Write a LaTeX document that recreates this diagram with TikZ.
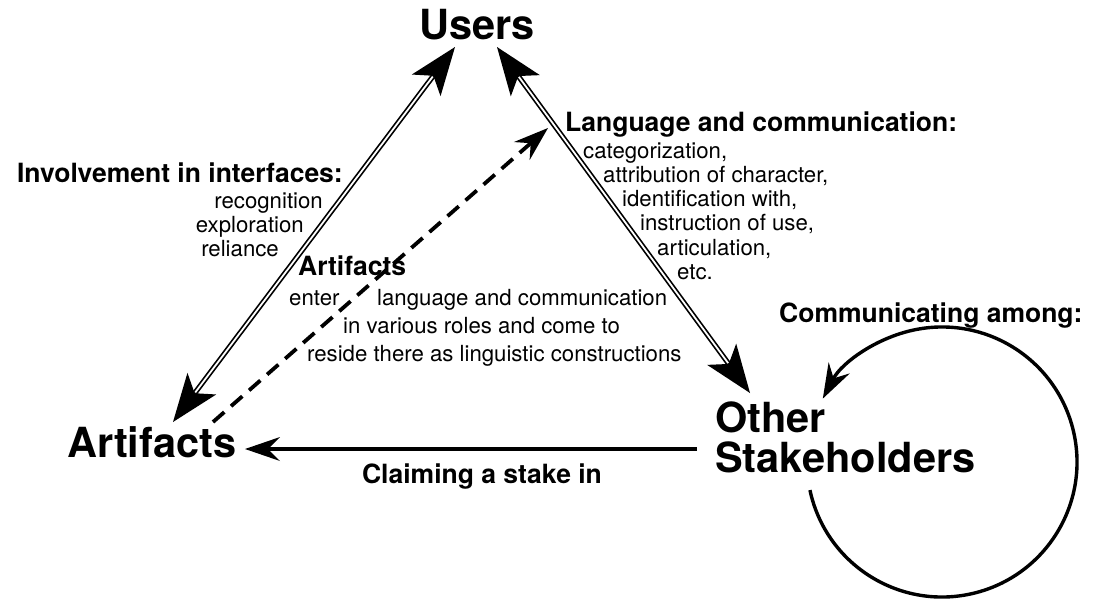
\documentclass[tikz,border=0pt]{standalone}
\usepackage{fontspec}
\setmainfont{TeX Gyre Heros}
\usetikzlibrary{arrows.meta,calc}
\begin{document}
\begin{tikzpicture}[x=1pt,y=-1pt,
  big/.style={font=\fontsize{41.5}{40}\selectfont\bfseries, inner sep=0pt},
  lbl/.style={font=\fontsize{26.5}{30}\selectfont\bfseries, inner sep=0pt},
  txt/.style={font=\fontsize{22.2}{26}\selectfont, inner sep=0pt},
  bighead/.tip={Stealth[length=48pt,width=36pt,inset=12pt,line width=0pt]},
  smallhead/.tip={Stealth[length=35pt,width=24pt,inset=12pt,line width=0pt]},
  dblouter/.style={line width=5.2pt, {bighead}-{bighead}},
  dblinner/.style={white, line width=1.8pt, shorten <=37pt, shorten >=37pt},
  thickarrow/.style={line width=3.4pt, -{smallhead}},
]
\useasboundingbox (0,0) rectangle (1098,598);

% main nodes
\node[big, anchor=base] (users) at (477,39) {Users};
\node[big, anchor=base west] (artifacts) at (67,457) {Artifacts};
\node[big, anchor=base west, align=left] (other) at (715,472) {Other\\Stakeholders};

% left labels
\node[lbl, anchor=base east] (inv) at (343,182) {Involvement in interfaces:};
\node[txt, anchor=base east] (recog) at (323,208) {recognition};
\node[txt, anchor=base east] (explor) at (304,232) {exploration};
\node[txt, anchor=base east] (reli) at (279,256) {reliance};

% right labels
\node[lbl, anchor=base west] (lang) at (565,131) {Language and communication:};
\node[txt, anchor=base west] (l1) at (583,158) {categorization,};
\node[txt, anchor=base west] (l2) at (603,182) {attribution of character,};
\node[txt, anchor=base west] (l3) at (622,206) {identification with,};
\node[txt, anchor=base west] (l4) at (640,230) {instruction of use,};
\node[txt, anchor=base west] (l5) at (657,255) {articulation,};
\node[txt, anchor=base west] (l6) at (677,279) {etc.};

% middle labels
\node[lbl, anchor=base west] (art2) at (298,275) {Artifacts};
\node[txt, anchor=base west] (m1) at (289,305) {enter};
\node[txt, anchor=base west] (m2) at (377,305) {language and communication};
\node[txt, anchor=base west] (m3) at (343,333) {in various roles and come to};
\node[txt, anchor=base west] (m4) at (307,361) {reside there as linguistic constructions};

\node[lbl, anchor=base] (claim) at (482,483) {Claiming a stake in};
\node[lbl, anchor=base west] (comm) at (779,322) {Communicating among:};

% connector end points
\coordinate (uL) at (455,47);
\coordinate (aT) at (173,422);
\coordinate (uR) at (497,47);
\coordinate (oT) at (750,393);
\coordinate (aD) at (213,422);
\coordinate (dT) at (548,128);
\coordinate (hS) at (697,449);
\coordinate (hT) at (245,449);
\coordinate (cc) at (942,462);

% double connectors
\draw[dblouter] (uL) -- (aT);
\draw[dblinner] (uL) -- (aT);
\draw[dblouter] (uR) -- (oT);
\draw[dblinner] (uR) -- (oT);

% dashed
\draw[thickarrow, line width=3.8pt, dash pattern=on 15pt off 9pt] (aD) -- (dT);

% claiming
\draw[thickarrow] (hS) -- (hT);

% self loop
\draw[thickarrow] ($(cc)+(168:135)$) arc[start angle=168, end angle=-152, radius=135];
\end{tikzpicture}
\end{document}
